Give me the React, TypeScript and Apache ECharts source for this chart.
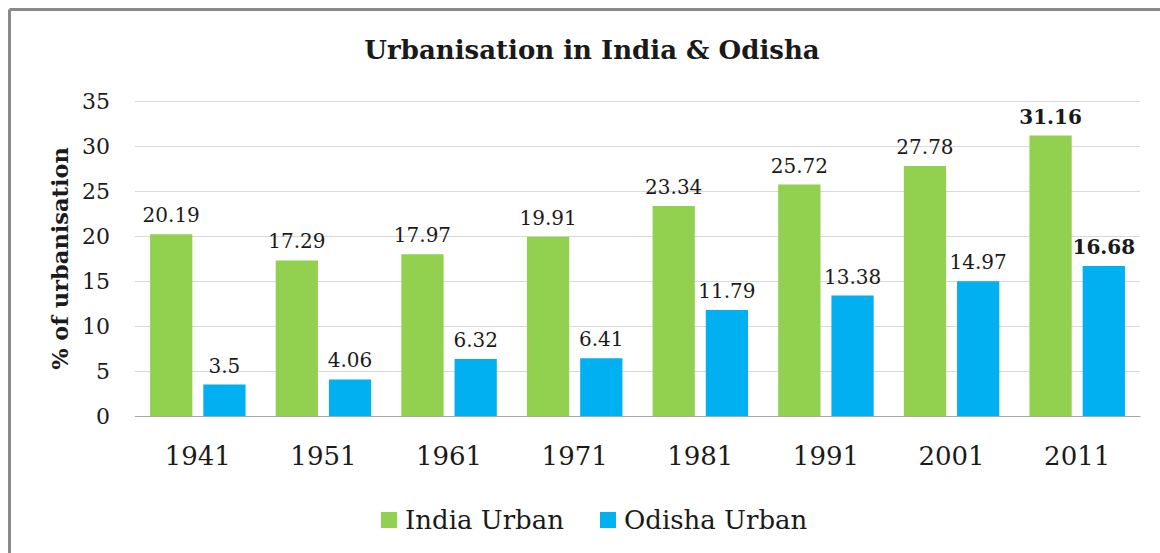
import React, { useEffect, useRef } from "react";
import * as echarts from "echarts";

const years = ["1941", "1951", "1961", "1971", "1981", "1991", "2001", "2011"];
const indiaUrban = [20.19, 17.29, 17.97, 19.91, 23.34, 25.72, 27.78, 31.16];
const odishaUrban = [3.5, 4.06, 6.32, 6.41, 11.79, 13.38, 14.97, 16.68];
const yTicks = { min: 0, max: 35, interval: 5 };
const boldIndex = 7;

const FONT = "DejaVu Serif";

export default function App() {
  const ref = useRef<HTMLDivElement>(null);
  useEffect(() => {
    if (!ref.current) return;
    const chart = echarts.init(ref.current, null, { renderer: "svg" });
    const mk = (arr: number[]) =>
      arr.map((v, i) =>
        i === boldIndex ? { value: v, label: { fontWeight: "bold" } } : v
      );
    chart.setOption({
      animation: false,
      backgroundColor: "#ffffff",
      graphic: [
        {
          type: "line",
          shape: { x1: 9.5, y1: 9.5, x2: 1160, y2: 9.5 },
          style: { stroke: "#8a8a8a", lineWidth: 3 },
        },
        {
          type: "line",
          shape: { x1: 9.5, y1: 9.5, x2: 9.5, y2: 553 },
          style: { stroke: "#8a8a8a", lineWidth: 3 },
        },
        {
          type: "text",
          x: 592,
          y: 50,
          style: {
            text: "Urbanisation in India & Odisha",
            fontFamily: FONT,
            fontWeight: "bold",
            fontSize: 26,
            fill: "#1a1a1a",
            align: "center",
            verticalAlign: "middle",
          },
        },
      ],
      grid: { left: 135, right: 20, top: 101, bottom: 137 },
      legend: {
        data: ["India Urban", "Odisha Urban"],
        left: 376,
        top: 502,
        icon: "rect",
        itemWidth: 16,
        itemHeight: 16,
        itemGap: 36,
        textStyle: { fontFamily: FONT, fontSize: 26, color: "#1a1a1a", padding: [0, 0, 0, 3] },
      },
      xAxis: {
        type: "category",
        data: years,
        axisLine: { lineStyle: { color: "#a6a6a6", width: 1 } },
        axisTick: { show: false },
        axisLabel: { fontFamily: FONT, fontSize: 26, color: "#1a1a1a", margin: 27 },
      },
      yAxis: {
        type: "value",
        min: yTicks.min,
        max: yTicks.max,
        interval: yTicks.interval,
        name: "% of urbanisation",
        nameLocation: "middle",
        nameGap: 64,
        nameTextStyle: { fontFamily: FONT, fontSize: 22.5, fontWeight: "bold", color: "#1a1a1a" },
        axisLine: { show: false },
        axisTick: { show: false },
        splitLine: { lineStyle: { color: "#d9d9d9", width: 1 } },
        axisLabel: { fontFamily: FONT, fontSize: 22, color: "#1a1a1a", margin: 25 },
      },
      series: [
        {
          name: "India Urban",
          type: "bar",
          data: mk(indiaUrban),
          itemStyle: { color: "#92d050" },
          barCategoryGap: "24%",
          barGap: "26%",
          label: {
            show: true,
            position: "top",
            distance: 9,
            fontFamily: FONT,
            fontSize: 20,
            color: "#1a1a1a",
          },
        },
        {
          name: "Odisha Urban",
          type: "bar",
          data: mk(odishaUrban),
          itemStyle: { color: "#00b0f0" },
          barCategoryGap: "24%",
          barGap: "26%",
          label: {
            show: true,
            position: "top",
            distance: 9,
            fontFamily: FONT,
            fontSize: 20,
            color: "#1a1a1a",
          },
        },
      ],
    });
    return () => chart.dispose();
  }, []);
  return (
    <div
      ref={ref}
      style={{ position: "absolute", left: 0, top: 0, width: 1160, height: 553 }}
    />
  );
}
